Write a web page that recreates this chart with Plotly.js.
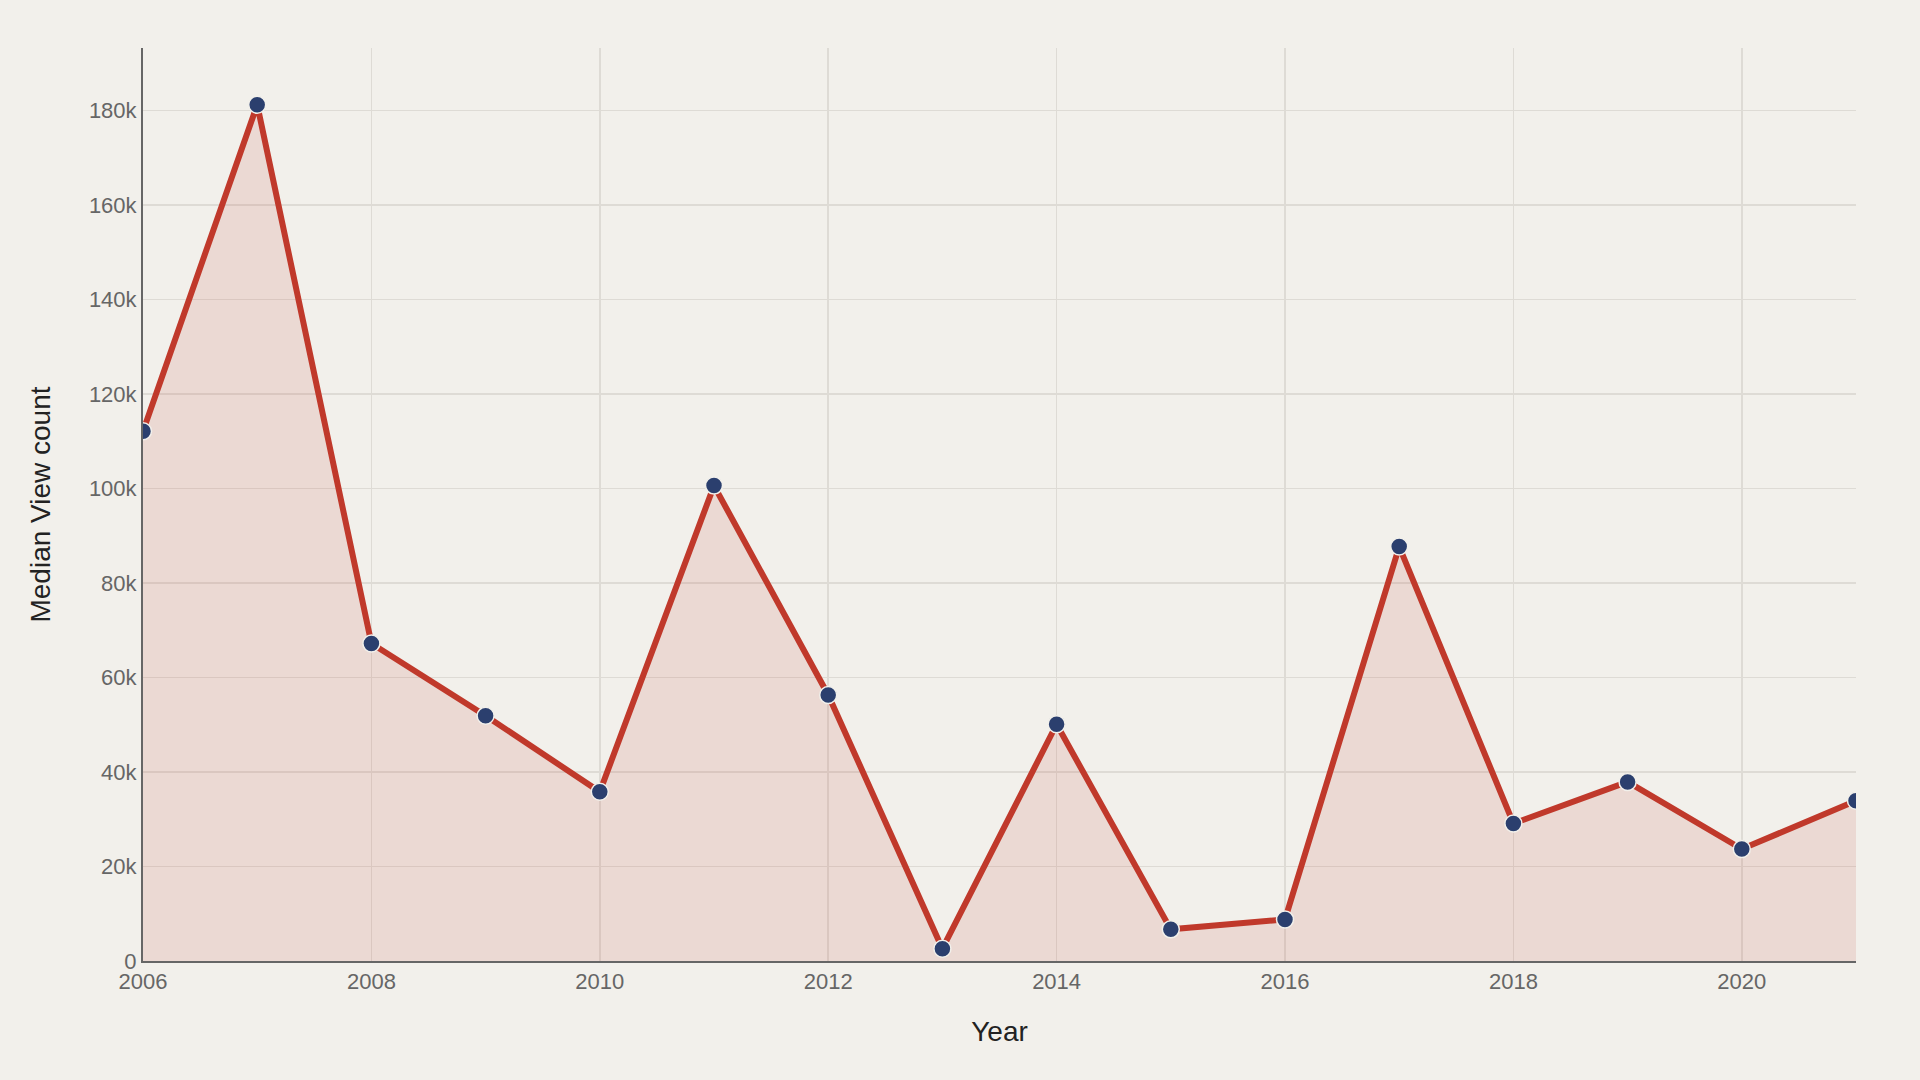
<!DOCTYPE html>
<html>
<head>
<meta charset="utf-8">
<script src="https://cdn.plot.ly/plotly-3.0.1.min.js"></script>
<style>html,body{margin:0;padding:0;background:#f2f0eb;}#chart{width:1920px;height:1080px;}</style>
</head>
<body>
<div id="chart"></div>
<script>
var years = [2006, 2007, 2008, 2009, 2010, 2011, 2012, 2013, 2014, 2015, 2016, 2017, 2018, 2019, 2020, 2021];
var medianViews = [112100, 181200, 67200, 51900, 35800, 100600, 56300, 2600, 50100, 6700, 8800, 87700, 29100, 37900, 23700, 33900];

var trace = {
  x: years,
  y: medianViews,
  type: 'scatter',
  mode: 'lines+markers',
  fill: 'tozeroy',
  fillcolor: 'rgba(192,57,43,0.12)',
  line: {color: '#c0392b', width: 6},
  marker: {color: '#2b3f6e', size: 17, line: {color: '#f2f0eb', width: 1.5}},
  hoverinfo: 'x+y'
};

var layout = {
  width: 1920,
  height: 1080,
  paper_bgcolor: '#f2f0eb',
  plot_bgcolor: '#f2f0eb',
  margin: {l: 143, r: 64, t: 48, b: 119},
  showlegend: false,
  font: {family: 'Liberation Sans, Arial, sans-serif', color: '#666666', size: 22},
  xaxis: {
    range: [2006, 2021],
    dtick: 2,
    tick0: 2006,
    showgrid: true,
    gridcolor: '#dedbd5',
    gridwidth: 1.5,
    zeroline: false,
    showline: true,
    linecolor: '#666666',
    linewidth: 2,
    ticks: '',
    tickfont: {size: 22, color: '#666666'},
    title: {text: 'Year', font: {size: 28, color: '#222222'}, standoff: 28}
  },
  yaxis: {
    range: [0, 193200],
    dtick: 20000,
    showgrid: true,
    gridcolor: '#dedbd5',
    gridwidth: 1.5,
    zeroline: false,
    showline: true,
    linecolor: '#666666',
    linewidth: 2,
    ticks: '',
    tickformat: '~s',
    tickfont: {size: 22, color: '#666666'},
    title: {text: 'Median View count', font: {size: 28, color: '#222222'}, standoff: 30}
  }
};

Plotly.newPlot('chart', [trace], layout, {displayModeBar: false, staticPlot: true});
</script>
</body>
</html>
